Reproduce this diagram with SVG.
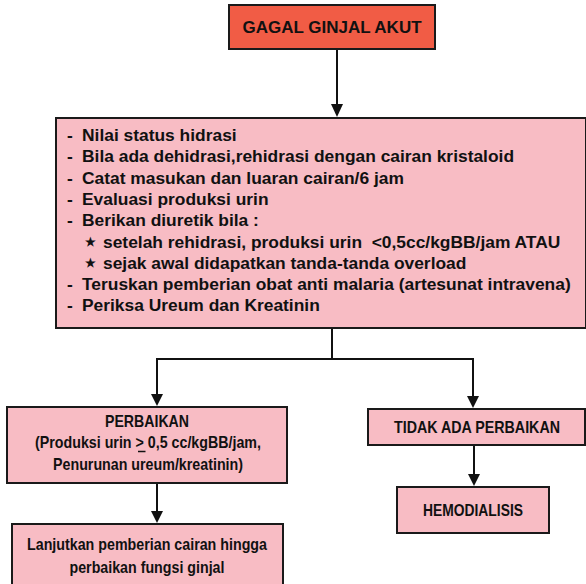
<svg xmlns="http://www.w3.org/2000/svg" width="586" height="584" viewBox="0 0 586 584">
  <style>
    .box { fill: #f8bcc4; stroke: #1a1a1a; stroke-width: 2; }
    .red { fill: #f15c45; stroke: #1a1a1a; stroke-width: 2; }
    .t { font-family: "Liberation Sans", Arial, sans-serif; font-weight: bold; fill: #111; }
    .title { font-size: 17px; text-anchor: middle; }
    .body { font-size: 17.4px; }
    .star { font-size: 12px; }
    .n { font-size: 16.5px; text-anchor: middle; }
    .conn { stroke: #111; stroke-width: 2; fill: none; }
    .head { fill: #111; }
  </style>

  <g id="connectors">
    <line class="conn" x1="337" y1="50" x2="337" y2="105"/>
    <polygon class="head" points="331,104 343,104 337,117"/>
    <polyline class="conn" points="332,327 332,359 157,359 157,395"/>
    <polygon class="head" points="151,394 163,394 157,406"/>
    <polyline class="conn" points="332,359 473,359 473,397"/>
    <polygon class="head" points="467,396 479,396 473,408"/>
    <line class="conn" x1="157" y1="484" x2="157" y2="512"/>
    <polygon class="head" points="151,511 163,511 157,523"/>
    <line class="conn" x1="474" y1="446" x2="474" y2="475"/>
    <polygon class="head" points="468,474 480,474 474,486"/>
  </g>

  <g id="gagal-ginjal-akut">
    <rect class="red" x="229" y="5" width="206" height="44"/>
    <text class="t title" x="332" y="33">GAGAL GINJAL AKUT</text>
  </g>

  <g id="tatalaksana">
    <rect class="box" x="56" y="118" width="530" height="210"/>
    <text class="t body" x="67" y="141">-</text>
    <text class="t body" x="82" y="141">Nilai status hidrasi</text>
    <text class="t body" x="67" y="162.3">-</text>
    <text class="t body" x="82" y="162.3">Bila ada dehidrasi,rehidrasi dengan cairan kristaloid</text>
    <text class="t body" x="67" y="183.6">-</text>
    <text class="t body" x="82" y="183.6">Catat masukan dan luaran cairan/6 jam</text>
    <text class="t body" x="67" y="204.9">-</text>
    <text class="t body" x="82" y="204.9">Evaluasi produksi urin</text>
    <text class="t body" x="67" y="226.2">-</text>
    <text class="t body" x="82" y="226.2">Berikan diuretik bila :</text>
    <text class="t star" x="85" y="246">★</text>
    <text class="t body" x="103" y="247.5" xml:space="preserve">setelah rehidrasi, produksi urin  &lt;0,5cc/kgBB/jam ATAU</text>
    <text class="t star" x="85" y="267.3">★</text>
    <text class="t body" x="103" y="268.8">sejak awal didapatkan tanda-tanda overload</text>
    <text class="t body" x="67" y="290.1">-</text>
    <text class="t body" x="82" y="290.1">Teruskan pemberian obat anti malaria (artesunat intravena)</text>
    <text class="t body" x="67" y="311.4">-</text>
    <text class="t body" x="82" y="311.4">Periksa Ureum dan Kreatinin</text>
  </g>

  <g id="perbaikan">
    <rect class="box" x="7" y="407" width="280" height="76"/>
    <text class="t n" x="147" y="427" textLength="84" lengthAdjust="spacingAndGlyphs">PERBAIKAN</text>
    <text class="t n" x="148" y="448" textLength="226" lengthAdjust="spacingAndGlyphs">(Produksi urin &gt; 0,5 cc/kgBB/jam,</text>
    <line x1="138" y1="451.5" x2="145.5" y2="451.5" stroke="#111" stroke-width="1.5"/>
    <text class="t n" x="148" y="470" textLength="190" lengthAdjust="spacingAndGlyphs">Penurunan ureum/kreatinin)</text>
  </g>

  <g id="tidak-ada-perbaikan">
    <rect class="box" x="368" y="409" width="217" height="36"/>
    <text class="t n" x="477" y="433" textLength="166" lengthAdjust="spacingAndGlyphs">TIDAK ADA PERBAIKAN</text>
  </g>

  <g id="hemodialisis">
    <rect class="box" x="397" y="487" width="152" height="46"/>
    <text class="t n" x="473" y="516" textLength="100" lengthAdjust="spacingAndGlyphs">HEMODIALISIS</text>
  </g>

  <g id="lanjutkan">
    <rect class="box" x="12" y="524" width="271" height="70"/>
    <text class="t n" x="147" y="550" textLength="240" lengthAdjust="spacingAndGlyphs">Lanjutkan pemberian cairan hingga</text>
    <text class="t n" x="147" y="573" textLength="155" lengthAdjust="spacingAndGlyphs">perbaikan fungsi ginjal</text>
  </g>
</svg>
